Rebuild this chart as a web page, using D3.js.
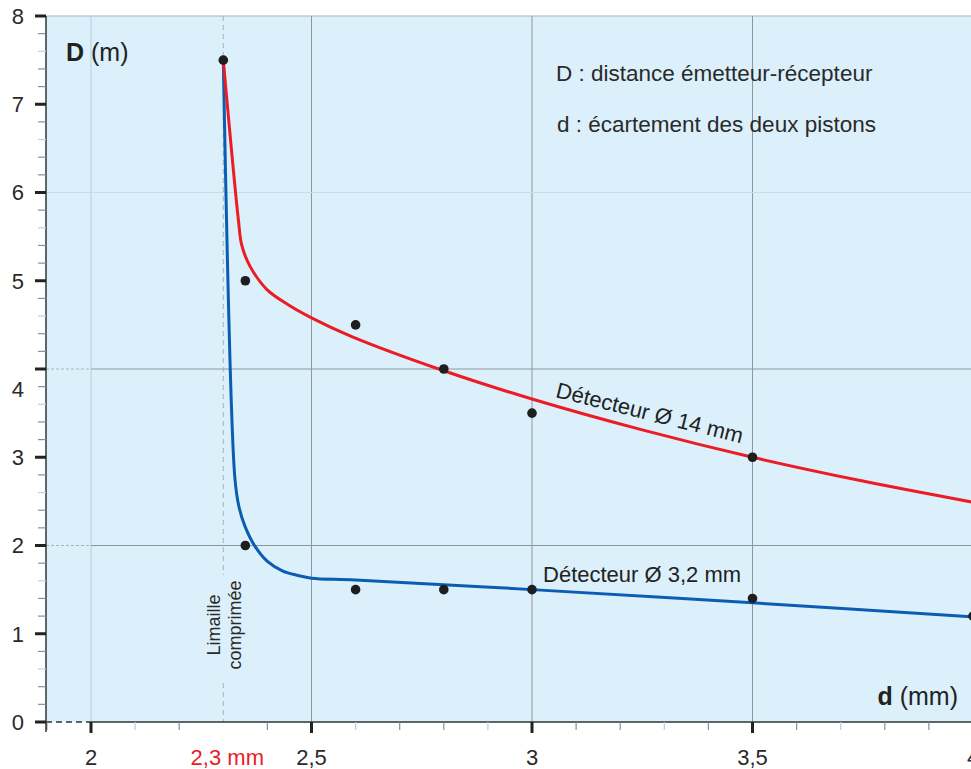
<!DOCTYPE html>
<html>
<head>
<meta charset="utf-8">
<script src="https://cdn.jsdelivr.net/npm/d3@7"></script>
<style>
  html, body { margin: 0; padding: 0; background: #fff; }
  svg { display: block; font-family: "Liberation Sans", Arial, sans-serif; }
</style>
</head>
<body>
<svg id="chart" width="971" height="769"></svg>
<script>
// measured points (d in mm, D in m)
const red_points = [
  [2.3, 7.5], [2.35, 5.0], [2.6, 4.5], [2.8, 4.0], [3.0, 3.5], [3.5, 3.0],
];
const blue_points = [
  [2.35, 2.0], [2.6, 1.5], [2.8, 1.5], [3.0, 1.5], [3.5, 1.4], [4.0, 1.2],
];
// fitted curves
const red_curve = [
  [2.3, 7.5], [2.334, 5.7], [2.342, 5.4], [2.361, 5.16], [2.399, 4.9],
  [2.45, 4.72], [2.5, 4.58], [2.59, 4.37], [2.8, 3.98], [3.0, 3.66],
  [3.25, 3.31], [3.5, 3.0], [3.75, 2.73], [4.0, 2.49],
];
const blue_curve = [
  [2.3, 7.5], [2.326, 2.78], [2.335, 2.45], [2.349, 2.22], [2.372, 1.99],
  [2.4, 1.82], [2.435, 1.71], [2.47, 1.66], [2.5, 1.63], [2.6, 1.61],
  [3.0, 1.5], [3.5, 1.35], [4.0, 1.19],
];
const x_major = [2, 2.5, 3, 3.5, 4];
const y_major = [0, 1, 2, 3, 4, 5, 6, 7, 8];
const dark_grid = [2.5, 3, 3.5];
const h_grid = [2, 4];
const compressed_d = 2.3;

const svg = d3.select("svg#chart");
const width = 971, height = 769;
const plotLeft = 46, plotTop = 16;

const x = d3.scaleLinear().domain([2, 4]).range([91, 973]);
const y = d3.scaleLinear().domain([0, 8]).range([722, 16]);
const xMin = x.invert(plotLeft);
const fmt = (v) => String(v).replace(".", ",");

// plot background
svg.append("rect")
  .attr("x", plotLeft).attr("y", plotTop)
  .attr("width", width - plotLeft).attr("height", y(0) - plotTop)
  .attr("fill", "#dbf0fb");

svg.append("line")
  .attr("x1", plotLeft).attr("x2", width)
  .attr("y1", plotTop).attr("y2", plotTop)
  .attr("stroke", "#a9b4b9").attr("stroke-width", 1.2);

const grid = svg.append("g");
// faint vertical at d = 2
grid.append("line")
  .attr("x1", x(2)).attr("x2", x(2))
  .attr("y1", plotTop).attr("y2", y(0))
  .attr("stroke", "#bcd6e2").attr("stroke-width", 1.2);
grid.selectAll("line.v")
  .data(dark_grid)
  .join("line")
  .attr("class", "v")
  .attr("x1", x).attr("x2", x)
  .attr("y1", plotTop).attr("y2", y(0))
  .attr("stroke", "#8c979c").attr("stroke-width", 1);
// faint horizontal at D = 6
grid.append("line")
  .attr("x1", plotLeft).attr("x2", width)
  .attr("y1", y(6)).attr("y2", y(6))
  .attr("stroke", "#c8dce6").attr("stroke-width", 1);
grid.selectAll("line.h")
  .data(h_grid)
  .join("line")
  .attr("class", "h")
  .attr("x1", x(2)).attr("x2", width)
  .attr("y1", y).attr("y2", y)
  .attr("stroke", "#8c979c").attr("stroke-width", 1);
grid.selectAll("line.hd")
  .data(h_grid)
  .join("line")
  .attr("class", "hd")
  .attr("x1", plotLeft).attr("x2", x(2))
  .attr("y1", y).attr("y2", y)
  .attr("stroke", "#9aa4a9").attr("stroke-width", 0.8)
  .attr("stroke-dasharray", "3,2");

// dashed marker at 2.3 mm, broken by the label
const cx = x(compressed_d);
[[plotTop, 575], [683, y(0)]].forEach(([a, b]) => {
  svg.append("line")
    .attr("x1", cx).attr("x2", cx)
    .attr("y1", a).attr("y2", b)
    .attr("stroke", "#a8b3b8").attr("stroke-width", 1)
    .attr("stroke-dasharray", "5,4");
});
const lim = svg.append("text")
  .attr("transform", `translate(${cx},625) rotate(-90)`)
  .attr("text-anchor", "middle")
  .attr("font-size", 18)
  .attr("fill", "#2a2a2a");
lim.append("tspan").attr("x", 0).attr("dy", "-0.2em").text("Limaille");
lim.append("tspan").attr("x", 0).attr("dy", "1.2em").text("comprimée");

// axes
const xAxis = svg.append("g").attr("transform", `translate(0,${y(0)})`);
xAxis.append("line")
  .attr("x1", x(2)).attr("x2", width)
  .attr("stroke", "#333").attr("stroke-width", 1.5);
xAxis.append("line")
  .attr("x1", plotLeft).attr("x2", x(2))
  .attr("stroke", "#333").attr("stroke-width", 1.5)
  .attr("stroke-dasharray", "6,4");
const xMinor = d3.range(19, 41).map((v) => v / 10)
  .filter((v) => v >= xMin && !x_major.some((m) => Math.abs(m - v) < 1e-6) && Math.abs(v - 2.3) > 1e-6);
xAxis.selectAll("line.minor")
  .data(xMinor)
  .join("line")
  .attr("class", "minor")
  .attr("x1", x).attr("x2", x)
  .attr("y1", 0).attr("y2", 8)
  .attr("stroke", (d, i) => (i % 3 === 1 ? "#b7cfdc" : "#8a8f93"))
  .attr("stroke-width", 1.2);
xAxis.selectAll("line.major")
  .data(x_major)
  .join("line")
  .attr("class", "major")
  .attr("x1", x).attr("x2", x)
  .attr("y1", 0).attr("y2", 11)
  .attr("stroke", "#222").attr("stroke-width", 3);
xAxis.selectAll("text.tick")
  .data(x_major)
  .join("text")
  .attr("class", "tick")
  .attr("x", x).attr("y", 43)
  .attr("text-anchor", "middle")
  .attr("font-size", 22)
  .attr("fill", "#2a2a2a")
  .text(fmt);
xAxis.append("text")
  .attr("x", x(compressed_d) + 4).attr("y", 43)
  .attr("text-anchor", "middle")
  .attr("font-size", 22)
  .attr("fill", "#e8202a")
  .text(fmt(compressed_d) + " mm");

const yAxis = svg.append("g").attr("transform", `translate(${plotLeft},0)`);
yAxis.append("line")
  .attr("y1", plotTop).attr("y2", y(0) + 10)
  .attr("stroke", "#333").attr("stroke-width", 1.5);
const yMinor = d3.range(1, 40).map((v) => v / 5)
  .filter((v) => Math.abs(v - Math.round(v)) > 1e-6);
yAxis.selectAll("line.minor")
  .data(yMinor)
  .join("line")
  .attr("class", "minor")
  .attr("y1", y).attr("y2", y)
  .attr("x1", -8).attr("x2", 0)
  .attr("stroke", (d, i) => (i % 4 === 2 ? "#bcd3df" : "#8a8f93"))
  .attr("stroke-width", 1.2);
yAxis.selectAll("line.major")
  .data(y_major)
  .join("line")
  .attr("class", "major")
  .attr("y1", y).attr("y2", y)
  .attr("x1", -11).attr("x2", 0)
  .attr("stroke", "#222").attr("stroke-width", 3);
yAxis.selectAll("text.tick")
  .data(y_major)
  .join("text")
  .attr("class", "tick")
  .attr("x", -22)
  .attr("y", (d) => y(d) + (d === 4 ? 20 : 0))
  .attr("dy", "0.36em")
  .attr("text-anchor", "end")
  .attr("font-size", 22)
  .attr("fill", "#2a2a2a")
  .text(fmt);

// axis titles
const yTitle = svg.append("text")
  .attr("x", 66).attr("y", 61)
  .attr("font-size", 25)
  .attr("fill", "#222");
yTitle.append("tspan").attr("font-weight", "bold").text("D");
yTitle.append("tspan").text(" (m)");

const xTitle = svg.append("text")
  .attr("x", 958).attr("y", 705)
  .attr("text-anchor", "end")
  .attr("font-size", 25)
  .attr("fill", "#222");
xTitle.append("tspan").attr("font-weight", "bold").text("d");
xTitle.append("tspan").text(" (mm)");

// legend notes
svg.append("text")
  .attr("x", 556).attr("y", 81)
  .attr("font-size", 22.5).attr("fill", "#2a2a2a")
  .text("D : distance émetteur-récepteur");
svg.append("text")
  .attr("x", 557).attr("y", 132)
  .attr("font-size", 22.5).attr("fill", "#2a2a2a")
  .text("d : écartement des deux pistons");

// curves
const line = d3.line()
  .x((d) => x(d[0]))
  .y((d) => y(d[1]))
  .curve(d3.curveCatmullRom.alpha(0.5));

svg.append("path")
  .attr("d", line(blue_curve))
  .attr("fill", "none")
  .attr("stroke", "#0b5db3")
  .attr("stroke-width", 3);
svg.append("path")
  .attr("d", line(red_curve))
  .attr("fill", "none")
  .attr("stroke", "#ec1c24")
  .attr("stroke-width", 3);

svg.append("g")
  .selectAll("circle")
  .data([...red_points, ...blue_points])
  .join("circle")
  .attr("cx", (d) => x(d[0]))
  .attr("cy", (d) => y(d[1]))
  .attr("r", 4.8)
  .attr("fill", "#1e1e1e");

// curve labels
svg.append("text")
  .attr("transform", `translate(${x(3.263)},${y(3.42)}) rotate(14)`)
  .attr("text-anchor", "middle")
  .attr("font-size", 22)
  .attr("fill", "#222")
  .text("Détecteur Ø 14 mm");
svg.append("text")
  .attr("x", x(3.025)).attr("y", y(1.586))
  .attr("font-size", 22)
  .attr("fill", "#222")
  .text("Détecteur Ø 3,2 mm");
</script>
</body>
</html>
